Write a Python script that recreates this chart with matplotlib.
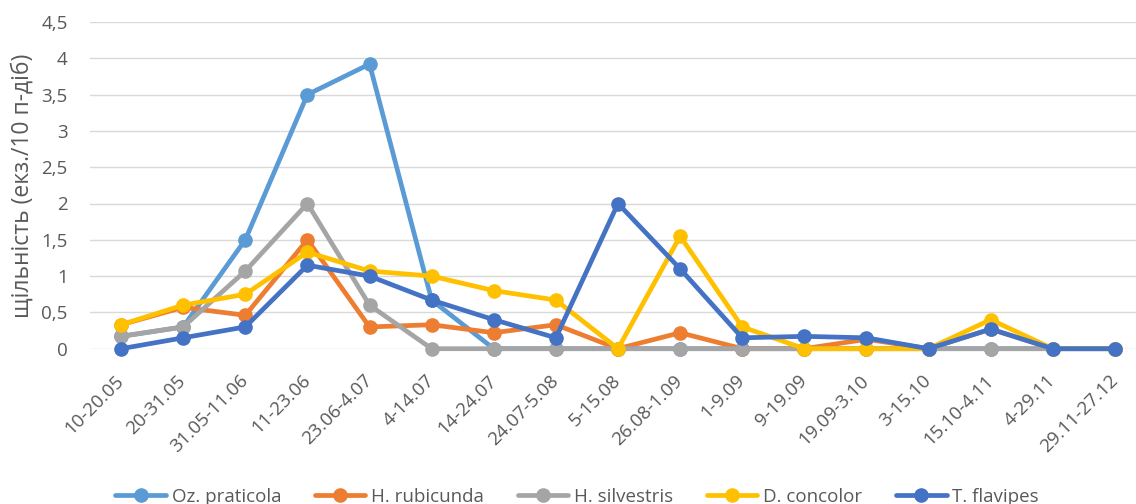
import matplotlib
matplotlib.use("Agg")
import matplotlib.pyplot as plt

plt.rcParams["font.family"] = ["Open Sans", "DejaVu Sans"]

# ── дані ─────────────────────────────────────────────
periods = ["10-20.05", "20-31.05", "31.05-11.06", "11-23.06", "23.06-4.07",
           "4-14.07", "14-24.07", "24.07-5.08", "5-15.08", "26.08-1.09",
           "1-9.09", "9-19.09", "19.09-3.10", "3-15.10", "15.10-4.11",
           "4-29.11", "29.11-27.12"]

oz_praticola = [0.17, 0.3, 1.5, 3.5, 3.92, 0.67, 0, 0, 0, 0, 0, 0, 0, 0, 0, 0, 0]
h_rubicunda = [0.33, 0.57, 0.46, 1.5, 0.3, 0.33, 0.22, 0.33, 0, 0.22, 0, 0, 0.13, 0, 0.27, 0, 0]
h_silvestris = [0.17, 0.3, 1.07, 2.0, 0.6, 0, 0, 0, 0, 0, 0, 0, 0, 0, 0, 0, 0]
d_concolor = [0.33, 0.6, 0.75, 1.33, 1.07, 1.0, 0.8, 0.67, 0, 1.55, 0.3, 0, 0, 0, 0.4, 0, 0]
t_flavipes = [0, 0.15, 0.3, 1.15, 1.0, 0.67, 0.4, 0.15, 2.0, 1.1, 0.15, 0.17, 0.15, 0, 0.27, 0, 0]

series_names = ["Oz. praticola", "H. rubicunda", "H. silvestris", "D. concolor", "T. flavipes"]
series_values = [oz_praticola, h_rubicunda, h_silvestris, d_concolor, t_flavipes]
series_colors = ["#5B9BD5", "#ED7D31", "#A5A5A5", "#FFC000", "#4472C4"]

y_ticks = [0, 0.5, 1, 1.5, 2, 2.5, 3, 3.5, 4, 4.5]
y_ticklabels = ["0", "0,5", "1", "1,5", "2", "2,5", "3", "3,5", "4", "4,5"]

TXT = "#595959"

# ── фігура ───────────────────────────────────────────
W, H = 1136, 504
fig = plt.figure(figsize=(W / 100, H / 100), dpi=100, facecolor="white")
ax = fig.add_axes([90 / W, (H - 348.7) / H, (1146 - 90) / W, (348.7 - 22) / H])

x = list(range(len(periods)))
for name, vals, col in zip(series_names, series_values, series_colors):
    ax.plot(x, vals, color=col, linewidth=3.4, marker="o", markersize=9.5,
            solid_capstyle="round", label=name, clip_on=False)

ax.set_xlim(-0.5, len(periods) - 0.5)
ax.set_ylim(0, 4.5)
ax.set_yticks(y_ticks)
ax.set_yticklabels(y_ticklabels)
ax.grid(axis="y", color="#D9D9D9", linewidth=1.0)
ax.set_axisbelow(True)
for s in ax.spines.values():
    s.set_visible(False)

ax.tick_params(axis="y", length=0, pad=16, labelsize=13.5, labelcolor=TXT)
ax.tick_params(axis="x", length=0, pad=21, labelsize=13.5, labelcolor=TXT)
ax.set_xticks(x)
ax.set_xticklabels(periods, rotation=45, ha="right", va="center",
                   rotation_mode="anchor")

ax.set_ylabel("щільність (екз./10 п-діб)", fontsize=16.5, color=TXT, labelpad=5)

leg = fig.legend(loc="center", bbox_to_anchor=(0.508, 1 - 497 / H), ncol=5,
                 frameon=False, fontsize=13.5, handlelength=2.7,
                 handletextpad=0.3, columnspacing=1.8, labelcolor=TXT)

fig.savefig("out.png", dpi=100, facecolor="white")
